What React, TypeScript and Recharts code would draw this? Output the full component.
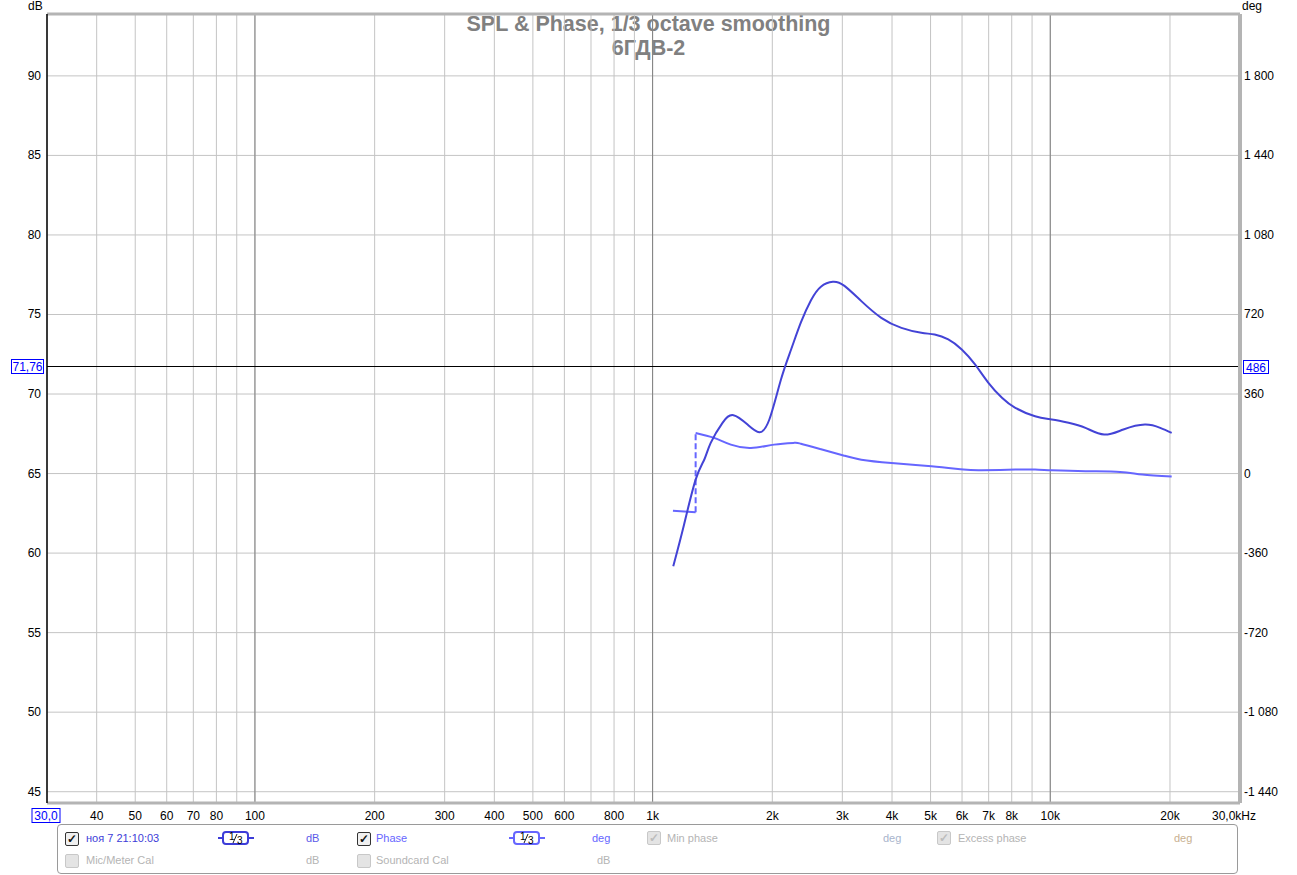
import React from 'react';
import {
  LineChart,
  Line,
  XAxis,
  YAxis,
  CartesianGrid,
  ReferenceLine,
} from 'recharts';

// SPL trace (dB)
const splFreq = [1127, 1200, 1283, 1350, 1400, 1499, 1597, 1733, 1854, 1966, 2102, 2230, 2360, 2502, 2650, 2840, 3037, 3349, 3759, 4224, 4740, 5121, 5540, 5990, 6468, 6990, 7560, 8167, 9157, 10090, 11120, 12260, 13660, 15270, 17300, 18900, 20200];
const splDb = [59.17, 61.8, 64.62, 65.9, 66.93, 68.19, 68.67, 68.08, 67.6, 68.4, 70.9, 72.8, 74.5, 75.9, 76.75, 77.06, 76.8, 75.84, 74.79, 74.16, 73.85, 73.74, 73.43, 72.8, 71.86, 70.7, 69.76, 69.13, 68.6, 68.4, 68.19, 67.87, 67.45, 67.77, 68.08, 67.87, 67.56];

// phase trace (deg), wrapped once near 1.3k
const phaseLowFreq = [1125, 1283];
const phaseLowDeg = [-168, -175];
const phaseHighFreq = [1283, 1428, 1573, 1767, 2021, 2270, 2360, 2650, 3020, 3349, 3987, 5025, 6050, 6720, 8167, 9157, 10090, 12260, 14980, 17040, 20200];
const phaseHighDeg = [184, 161.6, 131, 116, 131, 139, 135, 110, 82, 63, 48, 33, 18, 15, 18, 18, 15, 10.6, 7.5, -4.5, -13.6];
const phaseWrapFreq = [1283, 1283];
const phaseWrapDeg = [-175, 184];

// axes
const gridFreqs = [30, 40, 50, 60, 70, 80, 90, 100, 200, 300, 400, 500, 600, 700, 800, 900, 1000, 2000, 3000, 4000, 5000, 6000, 7000, 8000, 9000, 10000, 20000, 30000];
const labelFreqs = [40, 50, 60, 70, 80, 100, 200, 300, 400, 500, 600, 800, 1000, 2000, 3000, 4000, 5000, 6000, 7000, 8000, 10000, 20000];
const labelTexts = ['40', '50', '60', '70', '80', '100', '200', '300', '400', '500', '600', '800', '1k', '2k', '3k', '4k', '5k', '6k', '7k', '8k', '10k', '20k'];
const decadeFreqs = [100, 1000, 10000];
const dbTicks = [45, 50, 55, 60, 65, 70, 75, 80, 85, 90];
const degTicks = [-1440, -1080, -720, -360, 0, 360, 720, 1080, 1440, 1800];
const dbDomain = [44.29, 93.89];
const degDomain = [-1491, 2080];

const cursorDb = 71.76;
const cursorDbText = '71,76';
const cursorDegText = '486';

const title = 'SPL & Phase, 1/3 octave smoothing';
const subtitle = '6ГДВ-2';

const toPoints = (fs: number[], vs: number[]) => fs.map((f, i) => ({ f, v: vs[i] }));
const splData = toPoints(splFreq, splDb);
const phaseLow = toPoints(phaseLowFreq, phaseLowDeg);
const phaseHigh = toPoints(phaseHighFreq, phaseHighDeg);
const phaseWrap = toPoints(phaseWrapFreq, phaseWrapDeg);

const FONT = '"Liberation Sans", Arial, sans-serif';
const SPL_COLOR = '#4343d6';
const PHASE_COLOR = '#6666ff';
const BLUE = '#0000ff';

const fmtDeg = (v: number) => {
  const a = Math.abs(v);
  const s = a >= 1000 ? `${Math.floor(a / 1000)} ${String(a % 1000).padStart(3, '0')}` : String(a);
  return v < 0 ? `-${s}` : s;
};

const XTick = (props: any) => {
  const { x, y, payload } = props;
  const v = payload.value;
  if (v === 30) {
    return (
      <g>
        <rect x={x - 15} y={y + 5.5} width={28} height={14} fill="#fff" stroke={BLUE} />
        <text x={x - 1} y={y + 17} textAnchor="middle" fontSize={12} fill={BLUE} fontFamily={FONT}>30,0</text>
      </g>
    );
  }
  if (v === 30000) {
    return (
      <text x={x - 28} y={y + 17} fontSize={12} fill="#000" fontFamily={FONT}>30,0kHz</text>
    );
  }
  const i = labelFreqs.indexOf(v);
  if (i < 0) return <g />;
  return (
    <text x={x} y={y + 17} textAnchor="middle" fontSize={12} fill="#000" fontFamily={FONT}>{labelTexts[i]}</text>
  );
};

const LeftTick = (props: any) => {
  const { x, y, payload } = props;
  return (
    <text x={x} y={y + 4} textAnchor="end" fontSize={12} fill="#000" fontFamily={FONT}>{payload.value}</text>
  );
};

const RightTick = (props: any) => {
  const { x, y, payload } = props;
  return (
    <text x={x} y={y + 4} textAnchor="start" fontSize={12} fill="#000" fontFamily={FONT}>{fmtDeg(payload.value)}</text>
  );
};

const CursorTag = (props: any) => {
  const vb = props.viewBox || {};
  const x = vb.x ?? 0;
  const y = Math.round(vb.y ?? 0);
  const w = vb.width ?? 0;
  return (
    <g fontFamily={FONT} fontSize={12}>
      <line x1={x} x2={x + w} y1={y + 0.5} y2={y + 0.5} stroke="#000" />
      <rect x={x - 35.5} y={y - 6.5} width={32} height={14} fill="#fff" stroke={BLUE} />
      <text x={x - 19.5} y={y + 5} textAnchor="middle" fill={BLUE}>{cursorDbText}</text>
      <rect x={x + w + 3.5} y={y - 5.5} width={25} height={13} fill="#fff" stroke={BLUE} />
      <text x={x + w + 16} y={y + 5.5} textAnchor="middle" fill={BLUE}>{cursorDegText}</text>
    </g>
  );
};

const Check = ({ x, y, on, disabled }: { x: number; y: number; on: boolean; disabled: boolean }) => (
  <div
    style={{
      position: 'absolute', left: x, top: y, width: 12, height: 12,
      border: `1px solid ${disabled ? '#c8c8c8' : '#333'}`,
      borderRadius: 2,
      background: disabled ? '#e4e4e4' : '#f0f0f0',
      fontSize: 12, lineHeight: '12px', textAlign: 'center',
      color: disabled ? '#bcbcbc' : '#111', fontWeight: 'bold',
    }}
  >
    {on ? '✓' : ''}
  </div>
);

const SmoothIcon = ({ x, y, color }: { x: number; y: number; color: string }) => (
  <svg style={{ position: 'absolute', left: x, top: y }} width={36} height={15}>
    <line x1={0} x2={36} y1={7} y2={7} stroke={color} strokeWidth={2} />
    <rect x={5} y={1} width={25} height={12} rx={3} fill="#fff" stroke={color} strokeWidth={2} />
    <text x={11} y={9} fontSize={10} fontFamily={FONT} fill="#000">1</text>
    <line x1={15} y1={12} x2={19} y2={3} stroke="#000" strokeWidth={0.9} />
    <text x={19} y={12.5} fontSize={10} fontFamily={FONT} fill="#000">3</text>
  </svg>
);

const Txt = ({ x, y, color, children }: { x: number; y: number; color: string; children: React.ReactNode }) => (
  <div style={{ position: 'absolute', left: x, top: y, fontSize: 11, lineHeight: '13px', color, fontFamily: FONT, whiteSpace: 'nowrap' }}>
    {children}
  </div>
);

const Legend = () => {
  const r1 = 832;
  const r2 = 854;
  const grey = '#b4b4b4';
  return (
    <>
      <div style={{ position: 'absolute', left: 57, top: 824, width: 1179, height: 48, border: '1px solid #9a9a9a', borderRadius: 4 }} />
      <Check x={65} y={r1} on disabled={false} />
      <Txt x={86} y={r1} color="#3c3cd8">ноя 7 21:10:03</Txt>
      <SmoothIcon x={218} y={r1 - 1} color="#3c3cd8" />
      <Txt x={306} y={r1} color="#5a5ae8">dB</Txt>
      <Check x={357} y={r1} on disabled={false} />
      <Txt x={376} y={r1} color={PHASE_COLOR}>Phase</Txt>
      <SmoothIcon x={509} y={r1 - 1} color={PHASE_COLOR} />
      <Txt x={592} y={r1} color={PHASE_COLOR}>deg</Txt>
      <Check x={647} y={r1 - 1} on disabled />
      <Txt x={667} y={r1} color={grey}>Min phase</Txt>
      <Txt x={883} y={r1} color="#a8b4cc">deg</Txt>
      <Check x={937} y={r1 - 1} on disabled />
      <Txt x={958} y={r1} color={grey}>Excess phase</Txt>
      <Txt x={1174} y={r1} color="#c8b090">deg</Txt>
      <Check x={65} y={r2} on={false} disabled />
      <Txt x={86} y={r2} color={grey}>Mic/Meter Cal</Txt>
      <Txt x={306} y={r2} color={grey}>dB</Txt>
      <Check x={357} y={r2} on={false} disabled />
      <Txt x={376} y={r2} color={grey}>Soundcard Cal</Txt>
      <Txt x={597} y={r2} color={grey}>dB</Txt>
    </>
  );
};

export default function App() {
  return (
    <div style={{ position: 'absolute', left: 0, top: 0, width: 1297, height: 875, background: '#fff', fontFamily: FONT }}>
      <div style={{ position: 'absolute', left: 0, top: 12, width: 1297, textAlign: 'center', color: '#808080', fontWeight: 'bold', fontSize: 21.5, lineHeight: '24px' }}>
        <div>{title}</div>
        <div>{subtitle}</div>
      </div>
      <div style={{ position: 'absolute', left: 28, top: -1, fontSize: 12, color: '#000' }}>dB</div>
      <div style={{ position: 'absolute', left: 1242, top: -1, fontSize: 12, color: '#000' }}>deg</div>
      <LineChart width={1297} height={875} margin={{ top: 14, right: 0, bottom: 52, left: 0 }}>
        <CartesianGrid yAxisId="left" stroke="#c4c4c4" strokeWidth={1} />
        <XAxis
          dataKey="f"
          type="number"
          scale="log"
          domain={[30, 30000]}
          ticks={gridFreqs}
          allowDataOverflow
          height={20}
          tickSize={0}
          tickMargin={0}
          tick={<XTick />}
          axisLine={{ stroke: '#b4b4b4', strokeWidth: 3 }}
          tickLine={false}
          interval={0}
        />
        <YAxis
          yAxisId="left"
          orientation="left"
          width={47}
          domain={dbDomain}
          ticks={dbTicks}
          allowDataOverflow
          tickSize={0}
          tickMargin={6}
          tick={<LeftTick />}
          axisLine={{ stroke: '#000', strokeWidth: 1.5 }}
          tickLine={false}
          interval={0}
        />
        <YAxis
          yAxisId="right"
          orientation="right"
          width={57}
          domain={degDomain}
          ticks={degTicks}
          allowDataOverflow
          tickSize={0}
          tickMargin={4}
          tick={<RightTick />}
          axisLine={{ stroke: '#b4b4b4', strokeWidth: 4 }}
          tickLine={false}
          interval={0}
        />
        {decadeFreqs.map((f) => (
          <ReferenceLine key={f} x={f} yAxisId="left" stroke="#808080" strokeWidth={1} />
        ))}
        <ReferenceLine y={dbDomain[1]} yAxisId="left" stroke="#b4b4b4" strokeWidth={3} />
        <ReferenceLine y={cursorDb} yAxisId="left" stroke="none" label={<CursorTag />} />
        <Line yAxisId="right" data={phaseLow} dataKey="v" type="monotone" stroke={PHASE_COLOR} strokeWidth={2} dot={false} isAnimationActive={false} />
        <Line yAxisId="right" data={phaseWrap} dataKey="v" type="linear" stroke={PHASE_COLOR} strokeWidth={2} strokeDasharray="6 3" dot={false} isAnimationActive={false} />
        <Line yAxisId="right" data={phaseHigh} dataKey="v" type="natural" stroke={PHASE_COLOR} strokeWidth={2} dot={false} isAnimationActive={false} />
        <Line yAxisId="left" data={splData} dataKey="v" type="natural" stroke={SPL_COLOR} strokeWidth={2} dot={false} isAnimationActive={false} />
      </LineChart>
      <Legend />
    </div>
  );
}
